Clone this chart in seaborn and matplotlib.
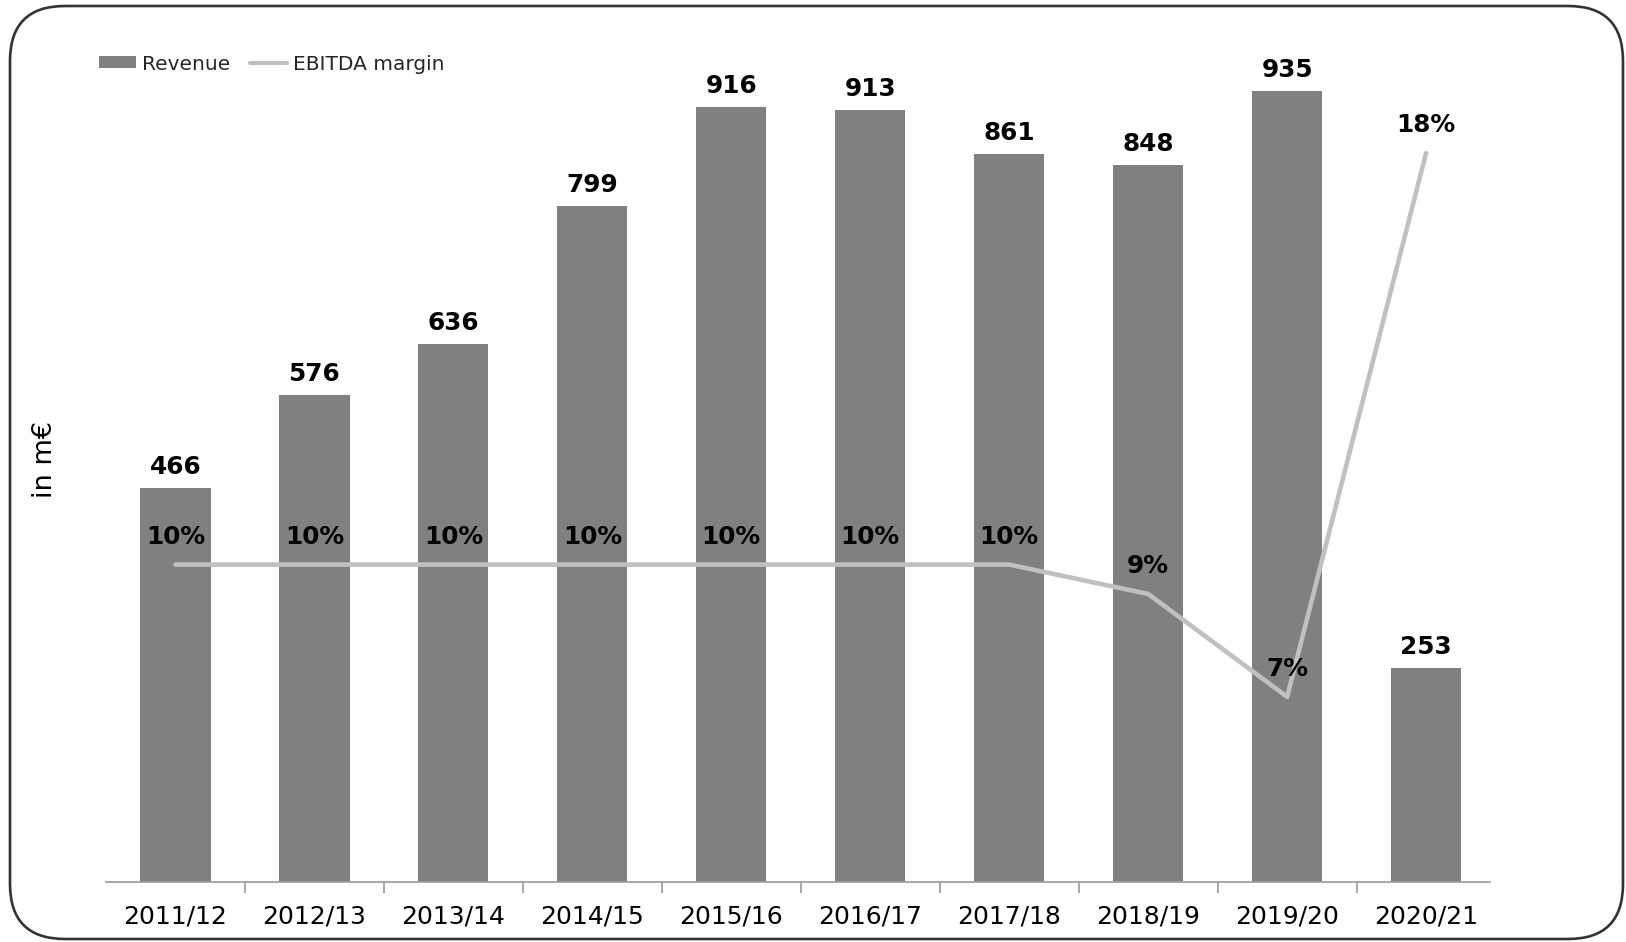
import numpy as np
import pandas as pd
import matplotlib
matplotlib.use("Agg")
import matplotlib.pyplot as plt
import seaborn as sns
from matplotlib.patches import FancyBboxPatch, Patch
from matplotlib.lines import Line2D
from matplotlib.transforms import IdentityTransform

# ---- data ----
years = ["2011/12", "2012/13", "2013/14", "2014/15", "2015/16",
         "2016/17", "2017/18", "2018/19", "2019/20", "2020/21"]
revenue = [466, 576, 636, 799, 916, 913, 861, 848, 935, 253]
ebitda_margin = [9.6, 9.6, 9.6, 9.6, 9.6, 9.6, 9.6, 9.0, 6.9, 18.0]

BAR_COLOR = "#808080"
LINE_COLOR = "#c0c0c0"

sns.set_theme(style="white")
plt.rcParams["font.family"] = ["DejaVu Sans"]

W, H = 1626, 942
fig = plt.figure(figsize=(W / 100, H / 100), dpi=100)
ax = fig.add_axes([106 / W, 1 - 882 / H, (1490 - 106) / W, (882 - 36) / H])

df = pd.DataFrame({"year": years, "revenue": revenue, "margin": ebitda_margin})
sns.barplot(data=df, x="year", y="revenue", color=BAR_COLOR, width=0.505,
            saturation=1, ax=ax)
for p in ax.patches:
    p.set_edgecolor("none")

ax.set_xlim(-0.5, 9.46)
ax.set_ylim(0, 1000)
ax.set_yticks([])
ax.set_xlabel("")
ax.set_ylabel("in m€", fontsize=19.5, color="black")
ax.yaxis.set_label_coords((42 - 106 + 16) / 1384, 0.5)
for s in ["top", "left", "right"]:
    ax.spines[s].set_visible(False)
ax.spines["bottom"].set_color("#a0a0a0")
ax.spines["bottom"].set_linewidth(1.3)
ax.tick_params(axis="x", which="major", length=0, pad=16, labelsize=18,
               labelcolor="black")
ax.set_xticks(np.arange(len(years) - 1) + 0.5, minor=True)
ax.tick_params(axis="x", which="minor", length=8, width=1.3, color="#a0a0a0",
               direction="out", bottom=True)

for i, v in enumerate(revenue):
    ax.annotate(f"{v}", (i, v), xytext=(0, 15), textcoords="offset points",
                ha="center", va="center", fontsize=17.8, fontweight="bold",
                color="black")

ax2 = ax.twinx()
idx = np.arange(len(years))
sns.lineplot(x=idx, y=ebitda_margin, ax=ax2, color=LINE_COLOR, linewidth=3.3,
             legend=False)
ax2.set_ylim(3.12, 20.39)
ax2.set_yticks([])
ax2.set_ylabel("")
for s in ax2.spines.values():
    s.set_visible(False)
ax2.set_xlim(-0.5, 9.46)
for i, v in enumerate(ebitda_margin):
    ax2.annotate(f"{v:.0f}%", (i, v), xytext=(0, 20), textcoords="offset points",
                 ha="center", va="center", fontsize=17.8, fontweight="bold",
                 color="black")

handles = [Patch(facecolor=BAR_COLOR, edgecolor="none", label="Revenue"),
           Line2D([0], [0], color=LINE_COLOR, linewidth=3, label="EBITDA margin")]
fig.legend(handles=handles, loc="center left", bbox_to_anchor=(99 / W, 1 - 64 / H),
           ncol=2, frameon=False, fontsize=14.5, handlelength=1.85, handleheight=0.55,
           handletextpad=0.3, columnspacing=0.95, borderpad=0, borderaxespad=0)

frame = FancyBboxPatch((10, 3), 1613, 933,
                       boxstyle="round,pad=0,rounding_size=55",
                       transform=IdentityTransform(), facecolor="none",
                       edgecolor="#333333", linewidth=1.9)
fig.add_artist(frame)

fig.savefig("out.png", dpi=100)
